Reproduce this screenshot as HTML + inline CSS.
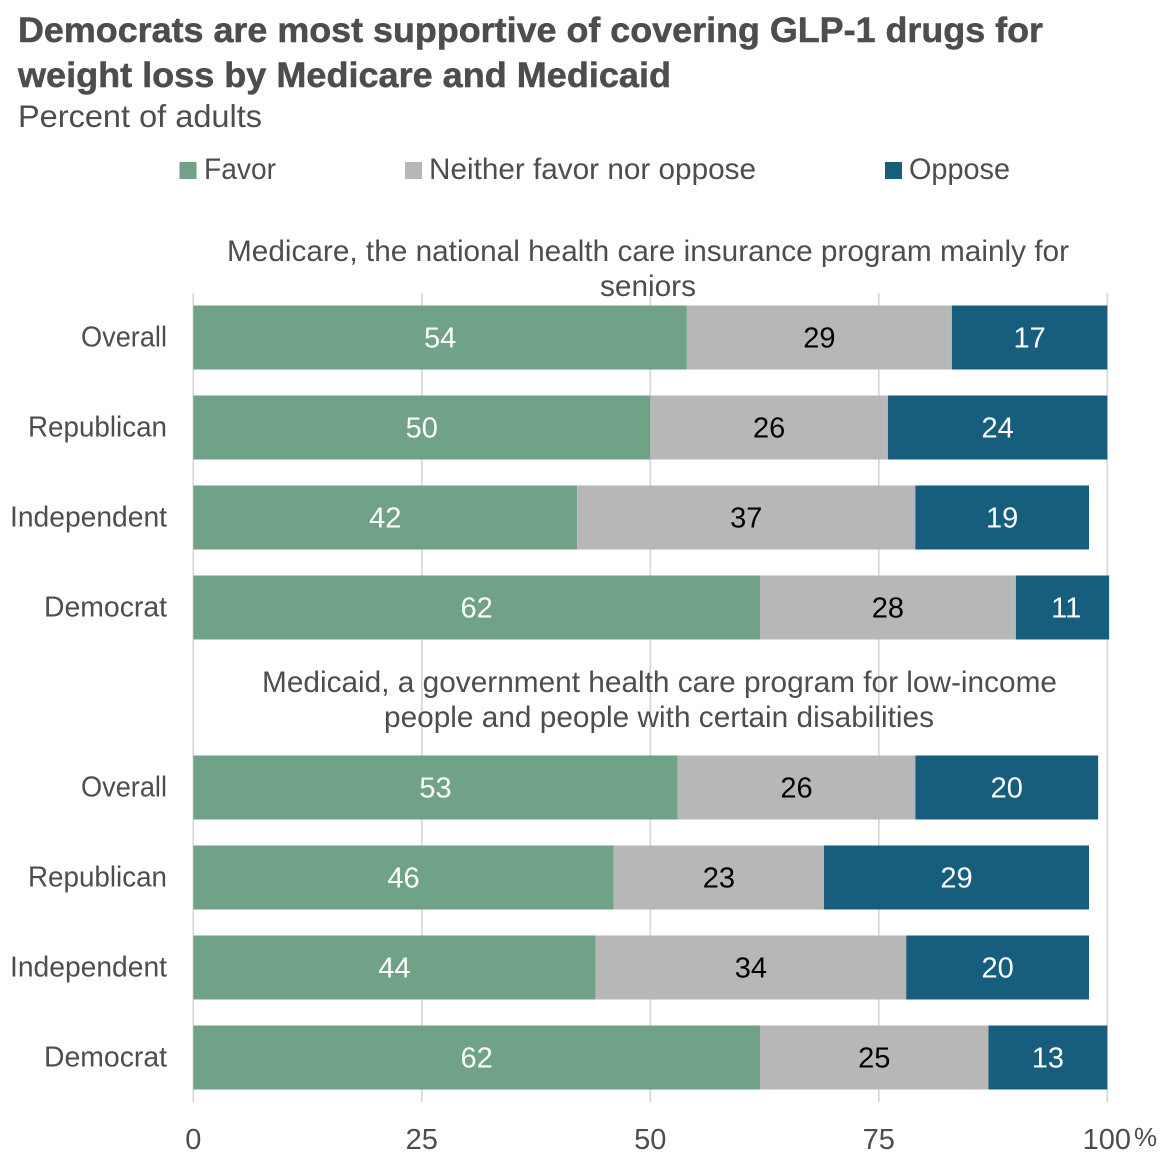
<!DOCTYPE html>
<html lang="en">
<head>
<meta charset="utf-8">
<title>Democrats are most supportive of covering GLP-1 drugs for weight loss</title>
<style>
html,body{margin:0;padding:0;background:#fff;}
svg{display:block;font-family:"Liberation Sans",sans-serif;}
.title{font-size:35px;font-weight:700;fill:#4d4d4d;stroke:#4d4d4d;stroke-width:0.5px;}
.sub{font-size:31.5px;fill:#4d4d4d;}
.legend{font-size:29.5px;fill:#4d4d4d;}
.facet{font-size:29.5px;fill:#4d4d4d;}
.row{font-size:29px;fill:#4d4d4d;text-anchor:start;}
.tick{font-size:29px;fill:#4d4d4d;text-anchor:middle;}
.val{font-size:29px;text-anchor:middle;}
</style>
</head>
<body>
<svg id="chart" width="1163" height="1170" viewBox="0 0 1163 1170" xmlns="http://www.w3.org/2000/svg">
  <rect width="1163" height="1170" fill="#ffffff"/>
  <text class="title" x="18" y="42" textLength="1025" lengthAdjust="spacingAndGlyphs">Democrats are most supportive of covering GLP-1 drugs for</text>
  <text class="title" x="18" y="87" textLength="653" lengthAdjust="spacingAndGlyphs">weight loss by Medicare and Medicaid</text>
  <text class="sub" x="18" y="127" textLength="244" lengthAdjust="spacingAndGlyphs">Percent of adults</text>

  <g>
    <rect x="179.500" y="162" width="17" height="17" fill="#70a288"/>
    <text class="legend" x="204" y="179" textLength="72" lengthAdjust="spacingAndGlyphs">Favor</text>
    <rect x="405" y="162" width="17" height="17" fill="#b7b7b7"/>
    <text class="legend" x="429" y="179" textLength="327" lengthAdjust="spacingAndGlyphs">Neither favor nor oppose</text>
    <rect x="885" y="162" width="17" height="17" fill="#175e7e"/>
    <text class="legend" x="909" y="179" textLength="101" lengthAdjust="spacingAndGlyphs">Oppose</text>
  </g>

  <g id="grid"></g>
  <g id="bars"></g>
  <g id="rows"></g>
  <g id="ticks"></g>

  <text class="facet" x="227" y="261" textLength="842" lengthAdjust="spacingAndGlyphs">Medicare, the national health care insurance program mainly for</text>
  <text class="facet" x="600" y="296" textLength="96" lengthAdjust="spacingAndGlyphs">seniors</text>
  <text class="facet" x="262" y="692" textLength="795" lengthAdjust="spacingAndGlyphs">Medicaid, a government health care program for low-income</text>
  <text class="facet" x="384" y="727" textLength="550" lengthAdjust="spacingAndGlyphs">people and people with certain disabilities</text>
  <text x="1134" y="1146" font-size="26" fill="#4d4d4d">%</text>
</svg>
<script>
const groups = ["Overall", "Republican", "Independent", "Democrat"];
const medicareFavor = [54, 50, 42, 62];
const medicareNeither = [29, 26, 37, 28];
const medicareOppose = [17, 24, 19, 11];
const medicaidFavor = [53, 46, 44, 62];
const medicaidNeither = [26, 23, 34, 25];
const medicaidOppose = [20, 29, 20, 13];
const tickValues = [0, 25, 50, 75, 100];
const tickLabels = ["0", "25", "50", "75", "100"];

const NS = "http://www.w3.org/2000/svg";
const axisMax = 100.2;
const xScale = v => 193.3 + v * 9.14;
const rowTop = (panel, i) => (panel === 0 ? 305.5 : 755.5) + i * 90;
const barHeight = 64;
const rowLabelRight = 167;
const panelNames = ["medicare", "medicaid"];
const panelSeries = [
  [medicareFavor, medicareNeither, medicareOppose],
  [medicaidFavor, medicaidNeither, medicaidOppose]
];
const seriesNames = ["favor", "neither", "oppose"];
const seriesFill = ["#70a288", "#b7b7b7", "#175e7e"];
const seriesText = ["#ffffff", "#000000", "#ffffff"];
const rowLabelWidth = {Overall: 86, Republican: 139, Independent: 157, Democrat: 123};

function make(tag, attrs, parent, text) {
  const el = document.createElementNS(NS, tag);
  for (const k in attrs) el.setAttribute(k, attrs[k]);
  if (text !== undefined) el.textContent = text;
  parent.appendChild(el);
  return el;
}

const gridG = document.getElementById("grid");
const barsG = document.getElementById("bars");
const rowsG = document.getElementById("rows");
const ticksG = document.getElementById("ticks");

tickValues.forEach((t, i) => {
  const line = make("line", {x1: xScale(t), x2: xScale(t), y1: 293, y2: 1102, stroke: "#d6d6d6", "stroke-width": 1.6}, gridG);
  
  
  const label = make("text", {class: "tick", x: i === 4 ? xScale(t) - 0.5 : xScale(t), y: 1149}, ticksG, tickLabels[i]);
  
  
});

panelSeries.forEach((series, p) => {
  groups.forEach((group, i) => {
    const top = rowTop(p, i);
    const w = rowLabelWidth[group];
    const rowLabel = make("text", {class: "row", x: rowLabelRight - w, y: top + 41, textLength: w, lengthAdjust: "spacingAndGlyphs"}, rowsG, group);
    
    
    let start = 0;
    series.forEach((values, s) => {
      const v = values[i];
      const end = Math.min(start + v, axisMax);
      const bar = make("rect", {x: xScale(start), y: top, width: xScale(end) - xScale(start), height: barHeight, fill: seriesFill[s]}, barsG);
      
      
      const val = make("text", {class: "val", x: xScale(start + v / 2), y: top + 42, fill: seriesText[s]}, barsG, String(v));
      
      
      start += v;
    });
  });
});
</script>
</body>
</html>
